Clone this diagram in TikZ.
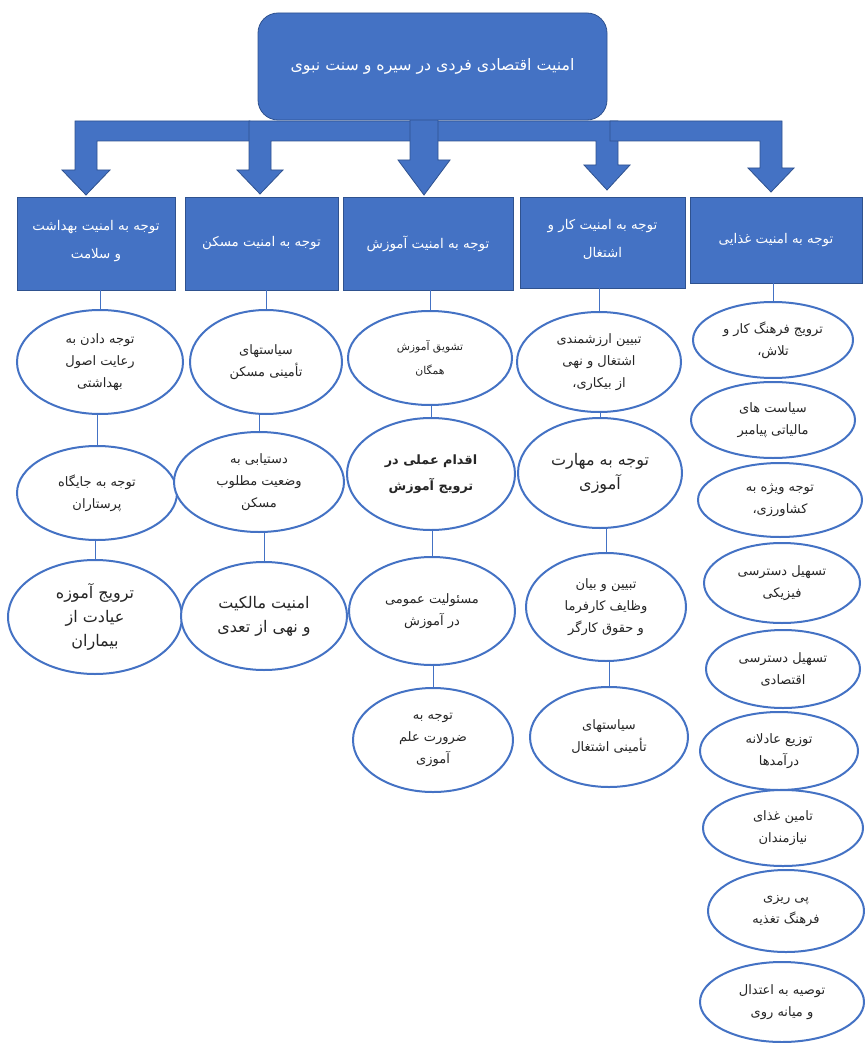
\documentclass[tikz,border=0pt]{standalone}
\usepackage{fontspec}
\newfontfamily\arabicfont[Script=Arabic]{DejaVu Sans}
\TeXXeTstate=1
\usetikzlibrary{shapes.geometric}
\definecolor{boxblue}{HTML}{4472C4}
\definecolor{edgeblue}{HTML}{2F528F}
\newcommand{\fa}[1]{\beginR #1\endR}
\tikzset{
  mainbox/.style = {draw=edgeblue, fill=boxblue, rounded corners=10pt, text=white, font=\arabicfont\fontsize{7.9}{12}\selectfont},
  catbox/.style = {draw=edgeblue, fill=boxblue, text=white, align=center, inner sep=0, font=\arabicfont\fontsize{6.7}{15}\selectfont},
  blockarrow/.style = {draw=edgeblue, fill=boxblue, line width=0.4pt},
  itemoval/.style = {ellipse, draw=boxblue, line width=1pt, fill=white, align=center, inner sep=0, text=black!85, font=\arabicfont\fontsize{6.5}{11}\selectfont},
  bigtext/.style = {font=\arabicfont\fontsize{8}{12}\selectfont},
  link/.style = {draw=boxblue, line width=0.5pt},
}

\begin{document}
\begin{tikzpicture}[x=0.5pt, y=-0.5pt]
  \useasboundingbox (0,0) rectangle (865,1043);

  % block arrows from the title down to the five boxes
  \filldraw[blockarrow] (250,121) -- (75,121) -- (75,170) -- (62,170) -- (86,195) -- (110,170) -- (97,170) -- (97,141) -- (250,141) -- cycle;
  \filldraw[blockarrow] (420,121) -- (249,121) -- (249,170) -- (237,170) -- (260,194) -- (283,170) -- (271,170) -- (271,141) -- (420,141) -- cycle;
  \filldraw[blockarrow] (430,121) -- (618,121) -- (618,165) -- (630,165) -- (607,190) -- (584,165) -- (596,165) -- (596,141) -- (430,141) -- cycle;
  \filldraw[blockarrow] (610,121) -- (782,121) -- (782,168) -- (794,168) -- (771,192) -- (748,168) -- (760,168) -- (760,141) -- (610,141) -- cycle;
  \filldraw[blockarrow] (410,115) -- (410,160) -- (398,160) -- (424,195) -- (450,160) -- (438,160) -- (438,115) -- cycle;

  \node (main) [mainbox, minimum width=174.5pt, minimum height=53.5pt] at (432.5,66.5) {\raisebox{2pt}{\fa{امنیت اقتصادی فردی در سیره و سنت نبوی}}};

  % the five areas
  \node (catA) [catbox, minimum width=79pt, minimum height=46.5pt] at (96,243.5) {\raisebox{4pt}{\shortstack{\fa{توجه به امنیت بهداشت}\\[4pt]\fa{و سلامت}}}};
  \node (catB) [catbox, minimum width=76.5pt, minimum height=46.5pt] at (261.5,243.5) {\fa{توجه به امنیت مسکن}};
  \node (catC) [catbox, minimum width=85pt, minimum height=46.5pt] at (428,243.5) {\fa{توجه به امنیت آموزش}};
  \node (catD) [catbox, minimum width=82.5pt, minimum height=45.5pt] at (602.5,242.5) {\raisebox{4pt}{\shortstack{\fa{توجه به امنیت کار و}\\[4pt]\fa{اشتغال}}}};
  \node (catE) [catbox, minimum width=86pt, minimum height=43pt] at (776,240) {\fa{توجه به امنیت غذایی}};

  % health
  \node (A1) [itemoval, minimum width=83pt, minimum height=52pt] at (100,362) {\fa{توجه دادن به}\\\fa{رعایت اصول}\\\fa{بهداشتی}};
  \node (A2) [itemoval, minimum width=80pt, minimum height=47pt] at (97,493) {\fa{توجه به جایگاه}\\\fa{پرستاران}};
  \node (A3) [itemoval, bigtext, minimum width=87pt, minimum height=57pt] at (95,617) {\fa{ترویج آموزه}\\\fa{عیادت از}\\\fa{بیماران}};
  % housing
  \node (B1) [itemoval, minimum width=76pt, minimum height=52pt] at (266,362) {\fa{سیاستهای}\\\fa{تأمینی مسکن}};
  \node (B2) [itemoval, minimum width=85pt, minimum height=50pt] at (259,482) {\fa{دستیابی به}\\\fa{وضعیت مطلوب}\\\fa{مسکن}};
  \node (B3) [itemoval, bigtext, minimum width=83pt, minimum height=54pt] at (264,616) {\fa{امنیت مالکیت}\\\fa{و نهی از تعدی}};
  % education
  \node (C1) [itemoval, font=\arabicfont\fontsize{5.4}{12}\selectfont, minimum width=82pt, minimum height=47pt] at (430,358) {\fa{تشویق آموزش}\\\fa{همگان}};
  \node (C2) [itemoval, font=\arabicfont\bfseries\fontsize{6.4}{13}\selectfont, minimum width=84pt, minimum height=56pt] at (431,474) {\fa{اقدام عملی در}\\\fa{ترویج آموزش}};
  \node (C3) [itemoval, minimum width=83pt, minimum height=54pt] at (432,611) {\fa{مسئولیت عمومی}\\\fa{در آموزش}};
  \node (C4) [itemoval, minimum width=80pt, minimum height=52pt] at (433,740) {\fa{توجه به}\\\fa{ضرورت علم}\\\fa{آموزی}};
  % work
  \node (D1) [itemoval, minimum width=82pt, minimum height=50pt] at (599,362) {\fa{تبیین ارزشمندی}\\\fa{اشتغال و نهی}\\\fa{از بیکاری،}};
  \node (D2) [itemoval, bigtext, minimum width=82pt, minimum height=55pt] at (600,473) {\fa{توجه به مهارت}\\\fa{آموزی}};
  \node (D3) [itemoval, minimum width=80pt, minimum height=54pt] at (606,607) {\fa{تبیین و بیان}\\\fa{وظایف کارفرما}\\\fa{و حقوق کارگر}};
  \node (D4) [itemoval, minimum width=79pt, minimum height=50pt] at (609,737) {\fa{سیاستهای}\\\fa{تأمینی اشتغال}};

  % food
  \foreach \n/\x/\y/\w/\h/\t in {
    1/773/340/80/38/{\fa{ترویج فرهنگ کار و}\\\fa{تلاش،}},
    2/773/420/82/38/{\fa{سیاست های}\\\fa{مالیاتی پیامبر}},
    3/780/500/82/37/{\fa{توجه ویژه به}\\\fa{کشاورزی،}},
    4/782/583/78/40/{\fa{تسهیل دسترسی}\\\fa{فیزیکی}},
    5/783/669/77/39/{\fa{تسهیل دسترسی}\\\fa{اقتصادی}},
    6/779/751/79/39/{\fa{توزیع عادلانه}\\\fa{درآمدها}},
    7/783/828/80/38/{\fa{تامین غذای}\\\fa{نیازمندان}},
    8/786/911/78/41/{\fa{پی ریزی}\\\fa{فرهنگ تغذیه}},
    9/782/1002/82/40/{\fa{توصیه به اعتدال}\\\fa{و میانه روی}}%
  }{
    \node (E\n) [itemoval, minimum width=\w pt, minimum height=\h pt] at (\x,\y) {\t};
  }

  % vertical links, each at the x of the lower node
  \draw[link] (catA.south -| A1.north) -- (A1.north);
  \draw[link] (A1.south -| A2.north) -- (A2.north);
  \draw[link] (A2.south -| A3.north) -- (A3.north);
  \draw[link] (catB.south -| B1.north) -- (B1.north);
  \draw[link] (B1.south -| B2.north) -- (B2.north);
  \draw[link] (B2.south -| B3.north) -- (B3.north);
  \draw[link] (catC.south -| C1.north) -- (C1.north);
  \draw[link] (C1.south -| C2.north) -- (C2.north);
  \draw[link] (C2.south -| C3.north) -- (C3.north);
  \draw[link] (C3.south -| C4.north) -- (C4.north);
  \draw[link] (catD.south -| D1.north) -- (D1.north);
  \draw[link] (D1.south -| D2.north) -- (D2.north);
  \draw[link] (D2.south -| D3.north) -- (D3.north);
  \draw[link] (D3.south -| D4.north) -- (D4.north);
  \draw[link] (catE.south -| E1.north) -- (E1.north);
\end{tikzpicture}
\end{document}
